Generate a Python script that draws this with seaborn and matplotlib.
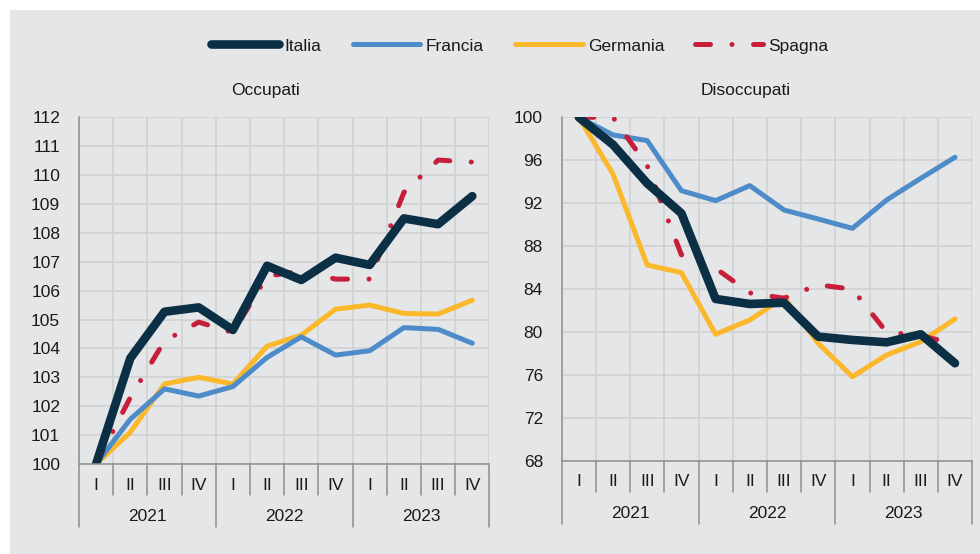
import numpy as np
import pandas as pd
import matplotlib
matplotlib.use("Agg")
import matplotlib.pyplot as plt
from matplotlib.lines import Line2D
from matplotlib.patches import Rectangle
import seaborn as sns

# ---- data (index 2021 I = 100) ----
quarters = ["I", "II", "III", "IV"] * 3
years = ["2021", "2022", "2023"]

occ_italia = [100, 103.66, 105.27, 105.42, 104.64, 106.86, 106.37, 107.14, 106.89, 108.50, 108.30, 109.27]
occ_francia = [100, 101.55, 102.60, 102.35, 102.68, 103.69, 104.40, 103.77, 103.92, 104.72, 104.66, 104.18]
occ_germania = [100, 101.10, 102.77, 103.00, 102.77, 104.08, 104.46, 105.36, 105.50, 105.21, 105.19, 105.67]
occ_spagna = [100, 102.30, 104.26, 104.91, 104.55, 106.50, 106.68, 106.40, 106.40, 109.40, 110.52, 110.45]

dis_italia = [100, 97.45, 93.85, 91.06, 83.09, 82.62, 82.74, 79.58, 79.27, 79.05, 79.80, 77.10]
dis_francia = [100, 98.36, 97.83, 93.17, 92.24, 93.64, 91.37, 90.53, 89.66, 92.30, 94.32, 96.28]
dis_germania = [100, 94.72, 86.25, 85.54, 79.80, 81.13, 83.24, 78.96, 75.85, 77.87, 79.11, 81.22]
dis_spagna = [100, 100.0, 95.50, 87.20, 85.94, 83.65, 83.15, 84.40, 84.00, 80.00, 79.67, 78.90]

paesi = ["Italia", "Francia", "Germania", "Spagna"]


def long_df(series):
    rows = []
    for paese, vals in zip(paesi, series):
        for t, v in enumerate(vals):
            rows.append({"t": t, "valore": v, "paese": paese})
    return pd.DataFrame(rows)


df_occ = long_df([occ_italia, occ_francia, occ_germania, occ_spagna])
df_dis = long_df([dis_italia, dis_francia, dis_germania, dis_spagna])

# ---- style ----
sns.set_style("white")
plt.rcParams["font.family"] = ["Liberation Sans", "DejaVu Sans"]

BG = "#e5e6e8"
GRID = "#d0d1d3"
AXC = "#8e8e8e"
TXT = "#1a1a1a"
FS = 12.5
colors = {"Italia": "#0b2f45", "Francia": "#4e8bc9", "Germania": "#fbb82b", "Spagna": "#c71f3b"}
widths = {"Italia": 6.2, "Francia": 3.6, "Germania": 3.6, "Spagna": 3.6}
draw_order = ["Germania", "Francia", "Spagna", "Italia"]
SPAGNA_DASH = (3.0, 4.3, 0.01, 4.3)

W, H = 980, 554
fig = plt.figure(figsize=(W / 100, H / 100), dpi=100)
fig.patch.set_facecolor("white")
fig.patches.append(Rectangle((10 / W, 0), 1, (H - 10) / H, transform=fig.transFigure,
                             facecolor=BG, edgecolor="none", zorder=-10))


def draw_panel(box, df, ylim, yticks, title, title_x):
    x0, top, x1, bottom = box
    ax = fig.add_axes([x0 / W, (H - bottom) / H, (x1 - x0) / W, (bottom - top) / H])
    ax.set_facecolor(BG)
    ax.set_axisbelow(True)
    h_px = bottom - top

    for p in draw_order:
        sub = df[df["paese"] == p]
        sns.lineplot(data=sub, x="t", y="valore", color=colors[p], linewidth=widths[p],
                     ax=ax, legend=False, solid_capstyle="round", solid_joinstyle="round")
        line = ax.lines[-1]
        if p == "Spagna":
            line.set_dashes(SPAGNA_DASH)
            line.set_dash_capstyle("round")
            line.set_dash_joinstyle("round")

    ax.set_xlim(-0.5, 11.5)
    ax.set_ylim(*ylim)
    ax.set_yticks(yticks)
    ax.set_xticks(np.arange(12))
    ax.set_xticklabels([])
    ax.set_xticks(np.arange(-0.5, 12, 1), minor=True)
    ax.grid(which="minor", axis="x", color=GRID, lw=1.2)
    ax.grid(which="major", axis="y", color=GRID, lw=1.2)
    ax.grid(which="major", axis="x", visible=False)
    ax.tick_params(axis="x", which="both", length=0)
    ax.tick_params(axis="y", direction="out", length=4.5, width=1.1, color=AXC,
                   pad=9, labelsize=FS, labelcolor=TXT)
    ax.set_xlabel("")
    ax.set_ylabel("")
    for s in ["top", "right"]:
        ax.spines[s].set_visible(False)
    for s in ["left", "bottom"]:
        ax.spines[s].set_color(AXC)
        ax.spines[s].set_linewidth(1.1)

    # category axis: quarter / year separators and labels
    trans = ax.get_xaxis_transform()
    for b in np.arange(-0.5, 12, 1):
        depth = 63 if b in (-0.5, 3.5, 7.5, 11.5) else 31
        ax.plot([b, b], [0, -depth / h_px], transform=trans, clip_on=False, color=AXC, lw=1.1)
    for i, q in enumerate(quarters):
        ax.text(i, -25.5 / h_px, q, transform=trans, ha="center", va="baseline",
                fontsize=FS, color=TXT)
    for k, y in enumerate(years):
        ax.text(1.5 + 4 * k, -57 / h_px, y, transform=trans, ha="center", va="baseline",
                fontsize=FS, color=TXT)

    fig.text(title_x / W, 1 - 90 / H, title, ha="center", va="center", fontsize=FS, color=TXT)
    return ax


draw_panel((79, 117.3, 489.4, 464), df_occ, (100, 112), np.arange(100, 113, 1), "Occupati", 266)
draw_panel((561.7, 117.3, 972.1, 461), df_dis, (68, 100), np.arange(68, 101, 4), "Disoccupati", 746)

# legend
handles = []
for p in paesi:
    h = Line2D([0], [0], color=colors[p], lw=widths[p], solid_capstyle="round")
    if p == "Spagna":
        h.set_dashes(SPAGNA_DASH)
        h.set_dash_capstyle("round")
    handles.append(h)
fig.legend(handles, paesi, loc="center", bbox_to_anchor=(520 / W, 1 - 46 / H), ncol=4,
           frameon=False, fontsize=FS, handlelength=3.9, handletextpad=0.3,
           columnspacing=1.8, labelcolor=TXT)

fig.savefig("out.png", dpi=100, facecolor=fig.get_facecolor())
